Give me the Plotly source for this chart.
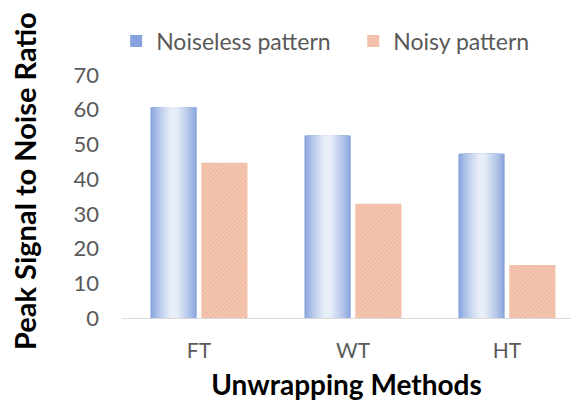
import plotly.graph_objects as go

# Peak signal-to-noise ratio per unwrapping method
methods = ["FT", "WT", "HT"]
noiseless_psnr = [60.7, 52.6, 47.3]
noisy_psnr = [44.7, 32.9, 15.3]
y_ticks = [0, 10, 20, 30, 40, 50, 60, 70]

BAR_W = 0.30
GAP = 0.03
FONT = "Lato, 'Liberation Sans', sans-serif"
TICK_GREY = "#595959"


def mix(c1, c2, t):
    a = [int(c1[i:i + 2], 16) for i in (1, 3, 5)]
    b = [int(c2[i:i + 2], 16) for i in (1, 3, 5)]
    return "rgb({},{},{})".format(*[round(a[i] + (b[i] - a[i]) * t) for i in range(3)])


fig = go.Figure()

# Noiseless bars: layered narrower overlays give a soft horizontal gradient
edge, centre = "#86a3dd", "#e8eef8"
layers = 14
blue_centre = -GAP / 2 - BAR_W / 2
for k in range(layers):
    t = k / (layers - 1)
    w = BAR_W * (1 - 0.85 * t)
    fig.add_trace(go.Bar(
        x=methods, y=noiseless_psnr,
        name="Noiseless pattern",
        width=w, offset=blue_centre - w / 2,
        marker=dict(color=mix(edge, centre, t ** 0.8), line=dict(width=0)),
        showlegend=(k == 0),
        legend="legend",
        hoverinfo="skip" if k else None,
    ))

# Noisy bars: fine diagonal hatch on a light salmon ground
fig.add_trace(go.Bar(
    x=methods, y=noisy_psnr,
    name="Noisy pattern",
    width=BAR_W, offset=GAP / 2,
    legend="legend2",
    marker=dict(
        color="#f2bca4",
        line=dict(width=0),
        pattern=dict(shape="/", fgcolor="#e5a285", bgcolor="#f5c8b3",
                     size=3, solidity=0.4),
    ),
))

legend_style = dict(
    orientation="h",
    y=1.14, yanchor="middle",
    xanchor="left",
    font=dict(size=23, color=TICK_GREY, family=FONT),
    bgcolor="rgba(0,0,0,0)",
)

fig.update_layout(
    width=571, height=407,
    margin=dict(l=122, r=0, t=75, b=89),
    barmode="overlay",
    plot_bgcolor="white",
    paper_bgcolor="white",
    font=dict(family=FONT, color=TICK_GREY),
    showlegend=True,
    legend=dict(x=-0.013, **legend_style),
    legend2=dict(x=0.515, **legend_style),
    xaxis=dict(
        range=[-0.5, 2.416],
        showgrid=False,
        showline=True, linecolor="#d9d9d9", linewidth=1,
        ticks="",
        ticklabelstandoff=14,
        tickfont=dict(size=21, color=TICK_GREY),
        title=dict(text="<b>Unwrapping Methods</b>",
                   font=dict(size=28, color="black", family=FONT),
                   standoff=14),
    ),
    yaxis=dict(
        range=[0, 70],
        tickvals=y_ticks,
        showgrid=False,
        zeroline=False,
        showline=False,
        ticks="",
        ticklabelstandoff=22,
        tickfont=dict(size=22, color=TICK_GREY),
    ),
    annotations=[dict(
        text="<b>Peak Signal to Noise Ratio</b>",
        textangle=-90,
        xref="paper", yref="paper",
        x=-0.216, y=0.564,
        xanchor="center", yanchor="middle",
        showarrow=False,
        font=dict(size=29, color="black", family=FONT),
    )],
)

fig.write_html("out.html")
